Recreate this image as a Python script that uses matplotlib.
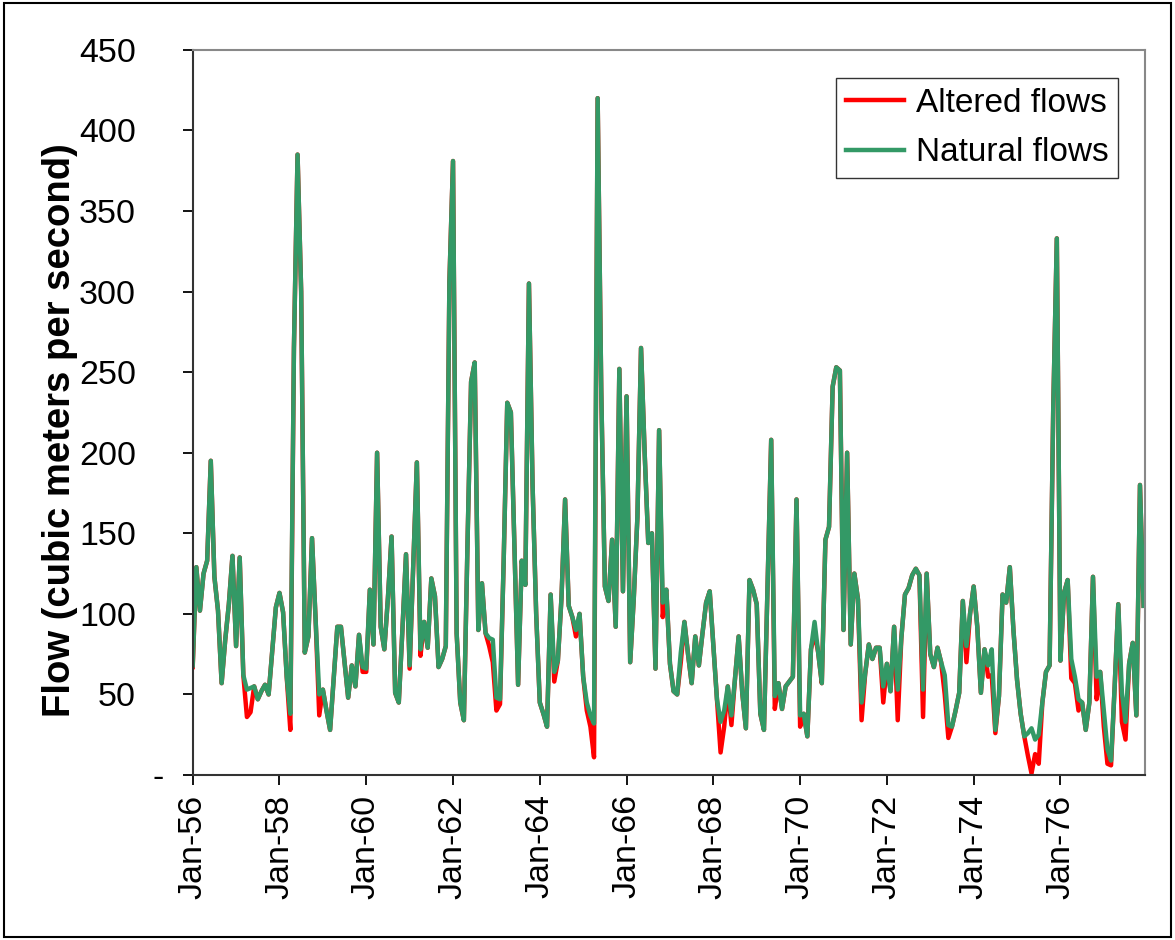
import matplotlib
matplotlib.use('Agg')
import matplotlib.pyplot as plt
from matplotlib.patches import Rectangle
from matplotlib.ticker import FuncFormatter
from matplotlib.transforms import ScaledTranslation
import numpy as np

plt.rcParams['font.family'] = ['Liberation Sans', 'DejaVu Sans']

#%% Data (monthly, Jan-56 .. Dec-77), one row per year
natural_flows = [
    68, 129, 102, 125, 133, 195, 123, 102, 57, 84, 106, 136,     # 1956
    80, 135, 62, 53, 54, 55, 47, 52, 56, 50, 77, 104,            # 1957
    113, 101, 61, 38, 265, 385, 300, 76, 86, 147, 96, 50,        # 1958
    53, 40, 28, 60, 92, 92, 70, 48, 68, 55, 87, 67,              # 1959
    66, 115, 81, 200, 92, 78, 110, 148, 51, 45, 90, 137,         # 1960
    68, 130, 194, 78, 95, 79, 122, 111, 67, 72, 80, 306,         # 1961
    381, 88, 45, 34, 143, 244, 256, 90, 119, 88, 85, 84,         # 1962
    48, 47, 132, 231, 225, 140, 56, 133, 118, 305, 180, 100,     # 1963
    45, 38, 30, 112, 64, 71, 110, 171, 105, 98, 90, 100,         # 1964
    61, 45, 37, 32, 420, 238, 117, 108, 146, 92, 252, 114,       # 1965
    235, 70, 110, 160, 265, 200, 144, 150, 66, 214, 107, 115,    # 1966
    69, 52, 50, 76, 95, 75, 57, 86, 68, 88, 107, 114,            # 1967
    80, 47, 33, 40, 55, 37, 60, 86, 51, 29, 121, 115,            # 1968
    106, 38, 28, 118, 208, 49, 57, 41, 55, 58, 61, 171,          # 1969
    37, 38, 24, 78, 95, 76, 57, 146, 154, 241, 253, 251,         # 1970
    90, 200, 81, 125, 109, 45, 63, 81, 72, 79, 79, 55,           # 1971
    69, 52, 92, 53, 85, 112, 116, 124, 128, 124, 53, 125,        # 1972
    75, 67, 79, 70, 62, 31, 30, 40, 51, 108, 80, 100,            # 1973
    117, 92, 51, 78, 68, 78, 28, 49, 112, 107, 129, 90,          # 1974
    59, 38, 24, 26, 29, 22, 25, 45, 64, 68, 226, 333,            # 1975
    71, 113, 121, 72, 61, 47, 45, 28, 45, 123, 61, 64,           # 1976
    40, 16, 9, 55, 106, 51, 33, 69, 82, 37, 180, 105,            # 1977
]

altered_flows = [
    67, 129, 102, 125, 133, 195, 123, 102, 57, 84, 106, 136,     # 1956
    80, 135, 62, 36, 39, 55, 47, 52, 56, 50, 77, 104,            # 1957
    113, 101, 61, 28, 265, 385, 300, 76, 86, 147, 96, 37,        # 1958
    53, 40, 28, 60, 92, 92, 70, 48, 68, 55, 87, 64,              # 1959
    64, 115, 81, 200, 92, 78, 110, 148, 51, 45, 90, 137,         # 1960
    66, 130, 194, 74, 95, 79, 122, 111, 67, 72, 80, 306,         # 1961
    381, 88, 45, 34, 143, 244, 256, 90, 119, 88, 80, 70,         # 1962
    40, 44, 132, 231, 225, 140, 56, 133, 118, 305, 180, 100,     # 1963
    45, 38, 30, 112, 58, 71, 110, 171, 105, 98, 86, 100,         # 1964
    61, 40, 30, 11, 420, 238, 117, 108, 146, 92, 252, 114,       # 1965
    235, 70, 110, 160, 265, 200, 144, 150, 66, 214, 98, 115,     # 1966
    69, 52, 50, 70, 95, 75, 57, 86, 68, 88, 107, 114,            # 1967
    80, 47, 14, 30, 55, 31, 60, 86, 51, 29, 121, 115,            # 1968
    106, 38, 28, 118, 208, 41, 57, 41, 55, 58, 61, 171,          # 1969
    30, 38, 24, 78, 88, 76, 57, 146, 154, 241, 253, 251,         # 1970
    90, 200, 81, 125, 109, 34, 63, 81, 72, 79, 79, 45,           # 1971
    69, 52, 92, 34, 85, 112, 116, 124, 128, 124, 36, 125,        # 1972
    75, 67, 79, 70, 50, 23, 30, 40, 51, 108, 70, 100,            # 1973
    117, 92, 51, 78, 61, 62, 26, 49, 112, 107, 129, 90,          # 1974
    59, 38, 24, 12, 1, 13, 7, 45, 64, 68, 226, 333,              # 1975
    71, 113, 121, 60, 57, 40, 45, 28, 45, 123, 47, 64,           # 1976
    30, 7, 6, 55, 106, 33, 22, 69, 82, 37, 180, 105,             # 1977
]

tick_labels = ['Jan-56', 'Jan-58', 'Jan-60', 'Jan-62', 'Jan-64', 'Jan-66',
               'Jan-68', 'Jan-70', 'Jan-72', 'Jan-74', 'Jan-76']

months = np.arange(len(natural_flows))

#%% Plot
fig = plt.figure(figsize=(11.75, 9.4), dpi=100)
ax = fig.add_axes([0.164, 0.1755, 0.8105, 0.7715])

ax.plot(months, altered_flows, color='#FF0000', lw=3.2, label='Altered flows',
        solid_joinstyle='round')
ax.plot(months, natural_flows, color='#339966', lw=3.2, label='Natural flows',
        solid_joinstyle='round')

ax.set_xlim(0, 263.4)
ax.set_ylim(0, 450)
ax.set_yticks(np.arange(0, 451, 50))
ax.yaxis.set_major_formatter(FuncFormatter(lambda v, p: '-' if v == 0 else '%d' % v))
ax.set_xticks(np.arange(0, 264, 24))
ax.set_xticklabels(tick_labels, rotation=90)

ax.tick_params(axis='both', direction='out', length=7, width=1.3,
               labelsize=24.5, colors='black')
ax.tick_params(axis='x', pad=7)
ax.tick_params(axis='y', pad=34)

# accounting-style zero label sits further right
zero_lab = ax.yaxis.get_major_ticks()[0].label1
zero_lab.set_transform(zero_lab.get_transform()
                       + ScaledTranslation(0.28, 0, fig.dpi_scale_trans))

for side in ['left', 'bottom']:
    ax.spines[side].set_color('#333333')
    ax.spines[side].set_linewidth(1.5)
for side in ['top', 'right']:
    ax.spines[side].set_color('#888888')
    ax.spines[side].set_linewidth(1.5)

ax.set_ylabel('Flow (cubic meters per second)', fontsize=27.5,
              fontweight='bold', labelpad=7)
ax.yaxis.set_label_coords(-0.12, 0.475)

leg = ax.legend(loc='upper right', bbox_to_anchor=(0.972, 0.961),
                fontsize=24, frameon=True, fancybox=False, handlelength=1.75,
                borderpad=0.3, labelspacing=0.55, handletextpad=0.35,
                borderaxespad=0)
leg.get_frame().set_edgecolor('black')
leg.get_frame().set_linewidth(1.0)

# outer chart border
fig.patches.append(Rectangle((0.003, 0.003), 0.994, 0.994, transform=fig.transFigure,
                             fill=False, edgecolor='black', linewidth=1.5))

fig.savefig('out.png', dpi=100)
